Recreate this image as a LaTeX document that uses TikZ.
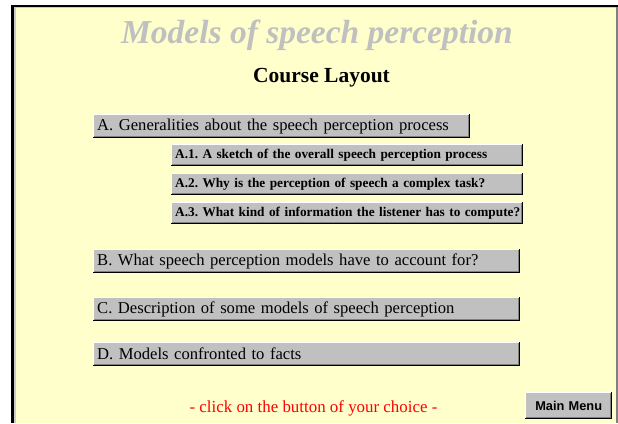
\documentclass[tikz,border=0pt]{standalone}
\usepackage{fontspec}
\setmainfont{Liberation Serif}
\setsansfont{Liberation Sans}
\frenchspacing
\definecolor{bgyellow}{HTML}{FFFFCC}
\definecolor{btngray}{HTML}{C0C0C0}
\definecolor{titlegray}{HTML}{C0C0C0}
\definecolor{shadowgray}{HTML}{808080}
\definecolor{clickred}{HTML}{FF0000}
\tikzset{
  btn/.style={rectangle, fill=btngray, anchor=north west, inner xsep=4pt, inner ysep=0pt,
    align=left, text=black,
    path picture={
      \fill[white] (path picture bounding box.north west) rectangle ([xshift=1pt,yshift=0pt]path picture bounding box.south west);
      \fill[white] (path picture bounding box.north west) rectangle ([yshift=-1pt]path picture bounding box.north east);
      \fill[black] ([xshift=-1pt]path picture bounding box.north east) rectangle (path picture bounding box.south east);
      \fill[black] ([yshift=1pt]path picture bounding box.south west) rectangle (path picture bounding box.south east);
      \fill[shadowgray] ([xshift=-2pt,yshift=-1pt]path picture bounding box.north east) rectangle ([xshift=-1pt,yshift=1pt]path picture bounding box.south east);
      \fill[shadowgray] ([xshift=1pt,yshift=2pt]path picture bounding box.south west) rectangle ([xshift=-1pt,yshift=1pt]path picture bounding box.south east);
    }},
  mainbtn/.style={btn, font=\fontsize{16.6}{19}\selectfont, minimum height=24pt},
  subbtn/.style={btn, font=\bfseries\fontsize{13.3}{15}\selectfont, minimum width=352pt, minimum height=22pt, text width=344pt},
  wide/.style={minimum width=427pt, text width=419pt},
}
\begin{document}
\begin{tikzpicture}[x=1pt,y=-1pt]
\useasboundingbox (0,0) rectangle (618,423);
% background and frame
\fill[white] (0,0) rectangle (618,423);
\fill[bgyellow] (14,7) rectangle (618,423);
\fill[black] (11,5) rectangle (618,7);
\fill[black] (11,5) rectangle (14,423);
\fill[gray!40] (14,7) rectangle (16,423);
\fill[gray!40] (14,7) rectangle (616,8);
\fill[shadowgray] (616,7) rectangle (618,423);
% titles
\node[text=titlegray, anchor=base, font=\bfseries\itshape\fontsize{33.5}{38}\selectfont] (title) at (317,43) {Models of speech perception};
\node[anchor=base, font=\bfseries\fontsize{21.5}{24}\selectfont] (course) at (321.5,82) {Course Layout};
% buttons
\node[mainbtn, minimum width=377pt, text width=369pt] (A) at (93,114) {\mbox{A. Generalities about the speech perception process}};
\node[subbtn] (A1) at (171,144) {\mbox{A.1. A sketch of the overall speech perception process}};
\node[subbtn] (A2) at (171,173) {\mbox{A.2. Why is the perception of speech a complex task?}};
\node[subbtn] (A3) at (171,202) {\mbox{A.3. What kind of information the listener has to compute?}};
\node[mainbtn, wide] (B) at (93,249) {\mbox{B. What speech perception models have to account for?}};
\node[mainbtn, wide] (C) at (93,297) {\mbox{C. Description of some models of speech perception}};
\node[mainbtn, wide] (D) at (93,342) {\mbox{D. Models confronted to facts}};
\node[btn, font=\sffamily\bfseries\fontsize{12.8}{14}\selectfont, minimum width=87pt, minimum height=27pt, align=center, text width=79pt] (menu) at (525,392) {Main Menu};
\node[text=clickred, anchor=base, font=\fontsize{16.9}{19}\selectfont] (click) at (313.5,412) {- click on the button of your choice -};
\end{tikzpicture}
\end{document}
